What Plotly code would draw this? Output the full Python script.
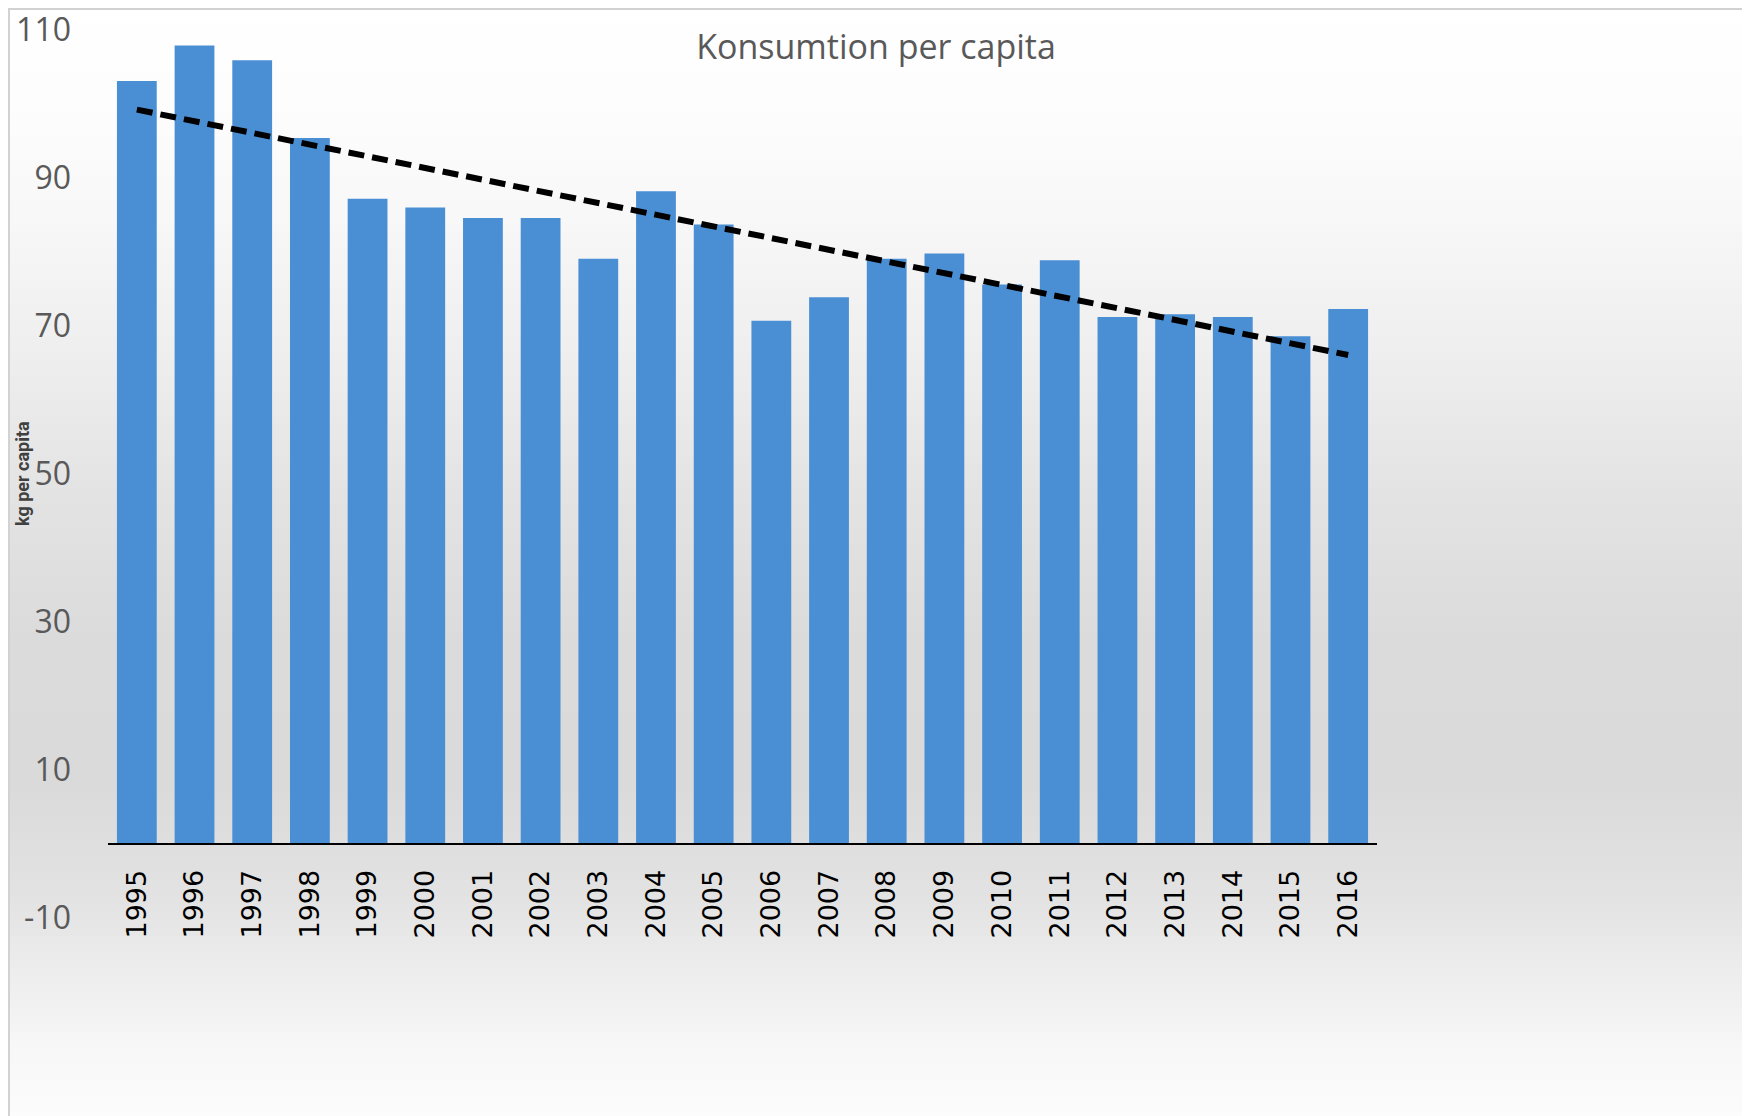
import numpy as np
import plotly.graph_objects as go

# ---------------- data ----------------
years = [str(y) for y in range(1995, 2017)]
consumption = [103.1, 107.9, 105.9, 95.4, 87.2, 86.0, 84.6, 84.6, 79.1, 88.2, 83.7,
               70.7, 73.9, 79.1, 79.8, 75.6, 78.9, 71.2, 71.6, 71.2, 68.6, 72.3]
ytick_vals = [-10, 10, 30, 50, 70, 90, 110]
ytick_text = ["-10", "10", "30", "50", "70", "90", "110"]
title_text = "Konsumtion per capita"
ytitle_text = "kg per capita"

# ---------------- layout geometry ----------------
W, H = 1750, 1116
OFF = 8  # page body margin offset
L, T = 108 - OFF, 30 - OFF
pw, ph = 1269, 888
R, B = W - L - pw, H - T - ph
YMIN, YMAX = -10, 110


def pxx(px):
    # screen pixel -> paper fraction
    return (px - OFF - L) / pw


def pxy(py):
    return (T + ph - (py - OFF)) / ph


# linear trend (Excel-style linear trendline)
idx = np.arange(len(consumption))
slope, intercept = np.polyfit(idx, consumption, 1)
trend = slope * idx + intercept

fig = go.Figure()
fig.add_trace(go.Bar(
    x=years, y=consumption,
    marker=dict(color="#4a8fd4", line=dict(width=0)),
    showlegend=False, hoverinfo="x+y",
))
fig.add_trace(go.Scatter(
    x=years, y=trend, mode="lines",
    line=dict(color="black", width=6, dash="16px,8px"),
    showlegend=False, hoverinfo="skip",
))

# background vertical gradient (style only)
stops = [(0, 255), (100, 253), (213, 248), (356, 238), (498, 227), (640, 219),
         (783, 218), (890, 226), (982, 238), (1053, 248), (1116, 252)]
shapes = []
band = 8
for y0 in range(0, H + 16, band):
    yc = y0 + band / 2
    g = int(round(np.interp(yc, [s[0] for s in stops], [s[1] for s in stops])))
    col = f"rgb({g},{g},{g})"
    shapes.append(dict(type="rect", xref="paper", yref="paper",
                       x0=pxx(0), x1=pxx(W + 20), y0=pxy(y0 + band + 0.5), y1=pxy(y0),
                       fillcolor=col, line=dict(width=0), layer="below"))
# chart border (as close to the frame edge as the page allows)
shapes.append(dict(type="rect", xref="paper", yref="paper",
                   x0=pxx(OFF + 1), x1=pxx(1747), y0=pxy(1140), y1=pxy(OFF + 1),
                   fillcolor="rgba(0,0,0,0)", line=dict(color="#d2d2d2", width=2),
                   layer="below"))

fig.update_layout(
    width=W, height=H,
    margin=dict(l=L, r=R, t=T, b=B, autoexpand=False),
    paper_bgcolor="white",
    plot_bgcolor="rgba(0,0,0,0)",
    bargap=0.31,
    shapes=shapes,
    title=dict(text=title_text, x=(876 - OFF) / W, xref="container", xanchor="center",
               y=1 - 39 / H, yref="container", yanchor="middle",
               font=dict(family="Open Sans", size=34, color="#595959")),
    xaxis=dict(type="category", anchor="free", automargin=False,
               position=(0 - YMIN) / (YMAX - YMIN),
               showline=True, linecolor="black", linewidth=2,
               showgrid=False, zeroline=False, ticks="",
               tickangle=-90, ticklabelstandoff=14, ticklabeloverflow="allow",
               tickfont=dict(family="DejaVu Sans", size=27, color="black")),
    yaxis=dict(range=[YMIN, YMAX], tickvals=ytick_vals, ticktext=ytick_text,
               automargin=False, ticklabeloverflow="allow",
               showgrid=False, zeroline=False, showline=False, ticks="",
               ticklabelstandoff=36,
               tickfont=dict(family="Open Sans", size=32, color="#595959")),
    annotations=[dict(text=ytitle_text, textangle=-90, showarrow=False,
                      xref="paper", yref="paper", x=pxx(22), y=pxy(474),
                      xanchor="center", yanchor="middle",
                      font=dict(family="Roboto", size=18, color="#404040",
                                weight="bold"))],
)

fig.write_html("out.html")
